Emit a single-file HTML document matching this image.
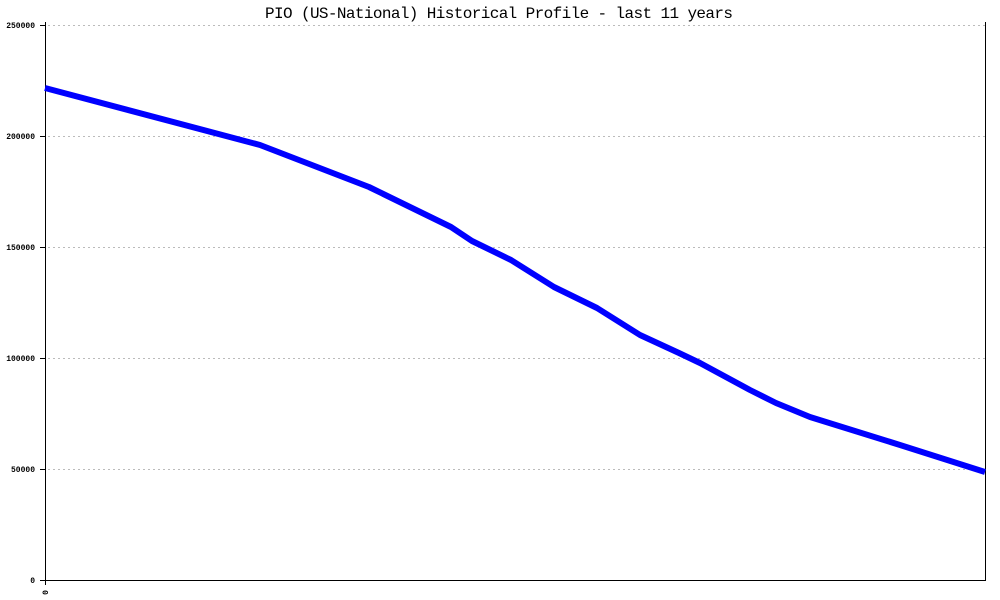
<!DOCTYPE html>
<html><head><meta charset="utf-8"><style>html,body{margin:0;padding:0;background:#fff}svg{display:block}</style></head>
<body>
<svg width="1000" height="600" xmlns="http://www.w3.org/2000/svg">
<rect width="1000" height="600" fill="#fff"/>
<g stroke="#bbb" stroke-width="1" stroke-dasharray="2,3">
<line x1="48" y1="25.5" x2="985" y2="25.5"/>
<line x1="48" y1="136.5" x2="985" y2="136.5"/>
<line x1="48" y1="247.5" x2="985" y2="247.5"/>
<line x1="48" y1="358.5" x2="985" y2="358.5"/>
<line x1="48" y1="469.5" x2="985" y2="469.5"/>
</g>
<g stroke="#000" stroke-width="1">
<line x1="45.5" y1="22" x2="45.5" y2="585"/>
<line x1="985.5" y1="22" x2="985.5" y2="580"/>
<line x1="40" y1="580.5" x2="986" y2="580.5"/>
<line x1="40" y1="25.5" x2="45" y2="25.5"/>
<line x1="40" y1="136.5" x2="45" y2="136.5"/>
<line x1="40" y1="247.5" x2="45" y2="247.5"/>
<line x1="40" y1="358.5" x2="45" y2="358.5"/>
<line x1="40" y1="469.5" x2="45" y2="469.5"/>
</g>
<g font-family="Liberation Mono, monospace" font-size="8" font-weight="bold" text-anchor="end" fill="#000">
<text x="35" y="28">250000</text>
<text x="35" y="139">200000</text>
<text x="35" y="250">150000</text>
<text x="35" y="361">100000</text>
<text x="35" y="472">50000</text>
<text x="35" y="583">0</text>
<text transform="translate(48,590) rotate(-90)" text-anchor="end">0</text>
</g>
<text x="265" y="18" font-family="Liberation Mono, monospace" font-size="16" textLength="468" fill="#000">PIO (US-National) Historical Profile - last 11 years</text>
<polyline fill="none" stroke="#0000ff" stroke-width="6" stroke-linejoin="round" points="45,88 260,145 369,187 451,227 472,241 511,260 554,287 597,308 640,335 679,353 700,363 750,390 776,403 810,417 900,445 985,472"/>
</svg>
</body></html>
